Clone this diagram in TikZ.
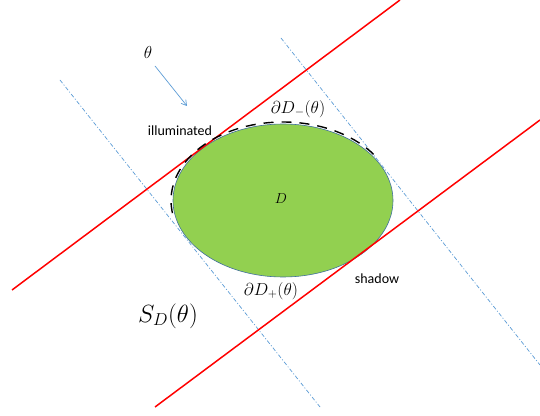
\documentclass[tikz,border=0pt]{standalone}
\usepackage{fontspec}
\setsansfont{Carlito}
\usetikzlibrary{arrows.meta}
\definecolor{bodygreen}{RGB}{146,208,80}
\definecolor{rimblue}{RGB}{65,113,156}
\definecolor{rayblue}{RGB}{91,155,213}
\tikzset{
	redline/.style={red,line width=1.5pt},
	rayline/.style={rayblue,line width=0.7pt,dash pattern=on 4pt off 2pt on 1pt off 2pt},
	lbl/.style={font=\fontsize{17}{20}\selectfont},
	txt/.style={font=\sffamily\fontsize{14}{16}\selectfont}
}
\begin{document}
\begin{tikzpicture}[x=1pt,y=1pt]
							\useasboundingbox (0,0) rectangle (540,415);
							\fill[bodygreen] (283,214.5) coordinate (c) ellipse [x radius=110, y radius=76.5];
							\draw[rimblue,line width=0.6pt] (c) ellipse [x radius=110, y radius=76.5];
        					
							\draw[rayline] (60,335) coordinate (b1) -- (320,8) coordinate (b2);
							\draw[rayline] (281,377) coordinate (b3) -- (540,50) coordinate (b4);
        					
							\draw[redline] (12,125) coordinate (r1) -- (400,415) coordinate (r2);
							\draw[redline] (155,8) coordinate (r3) -- (540,295) coordinate (r4);
        					
							\draw[black,line width=1.4pt,dash pattern=on 10pt off 8pt]
									(c) ++(36:112 and 78.5) arc[start angle=36, end angle=192, x radius=112, y radius=78.5];
        					
							\coordinate (a1) at (155,349);
							\coordinate (a2) at (187,309);
							\draw[rayblue,line width=0.7pt,-{Straight Barb[length=5pt,width=6pt]}] (a1) -- (a2);
        					
							\node[lbl] (th) at (148,362) {$\theta$};
							\node[txt] (ill) at (180,284) {illuminated};
							\node[lbl] (dm) at (298,306) {$\partial D_{-}(\theta)$};
							\node[font=\fontsize{14}{16}\selectfont] (d) at (281,216) {$D$};
							\node[txt] (sh) at (377,136) {shadow};
							\node[lbl] (dp) at (271,124) {$\partial D_{+}(\theta)$};
							\node[font=\fontsize{23}{26}\selectfont] (sd) at (168,99) {$S_D(\theta)$};
						\end{tikzpicture}
\end{document}
